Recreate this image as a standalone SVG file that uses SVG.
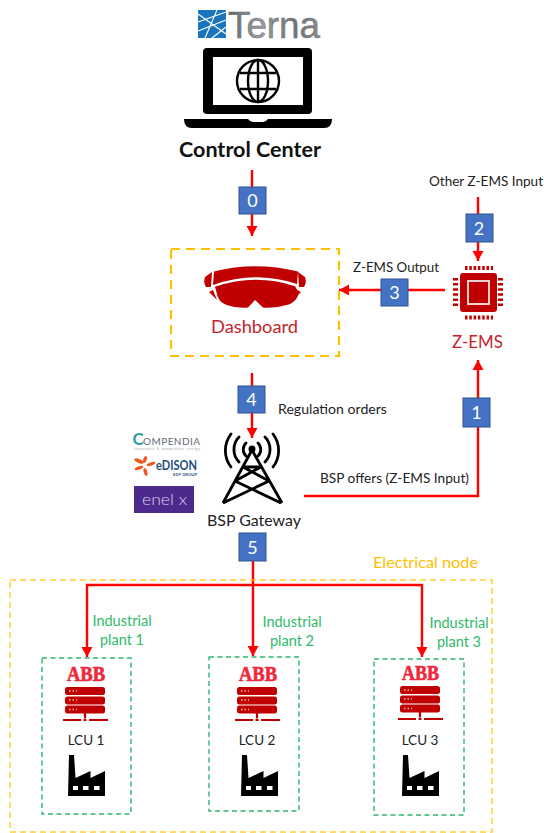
<svg xmlns="http://www.w3.org/2000/svg" width="544" height="833" viewBox="0 0 544 833">
<style>
text{font-family:"Lato","Open Sans","Liberation Sans",sans-serif}
.lbl{font-size:13.5px;fill:#222}
.num{font-size:18px;fill:#fff;text-anchor:middle}
.box{fill:#4472C4;stroke:#2F528F;stroke-width:1}
.wire{fill:none;stroke:#f00;stroke-width:2.4}
.red{fill:#C00000}
.redt{font-size:18px;fill:#C8232C}
.grn{font-size:14.5px;fill:#2DBB6B;text-anchor:middle}
.gbox{fill:none;stroke:#2FB56C;stroke-width:1.4;stroke-dasharray:5 3.5}
.abb{font-family:"Liberation Serif",serif;font-weight:bold;font-size:22px;fill:#F0283C;stroke:#F0283C;stroke-width:.7}
.wave{fill:none;stroke:#000;stroke-width:2.8;stroke-linecap:round}
</style>
<defs>
<marker id="ah" markerUnits="userSpaceOnUse" markerWidth="12" markerHeight="12" refX="10" refY="6" orient="auto"><path d="M0,0.500L10,6L0,11.500Z" fill="#f00"/></marker>
<linearGradient id="tg" x1="0" x2="1" y1="0" y2="0"><stop offset="0" stop-color="#5f6669"/><stop offset=".35" stop-color="#9a9fa2"/><stop offset=".7" stop-color="#6d7477"/><stop offset="1" stop-color="#858b8e"/></linearGradient>
<g id="server">
<rect x="65" y="687" width="40" height="8" rx="2.500" class="red"/>
<rect x="65" y="696.500" width="40" height="8" rx="2.500" class="red"/>
<rect x="65" y="705.500" width="40" height="8" rx="2.500" class="red"/>
<path d="M69,691h8M69,700h8M69,709.500h8" stroke="#f3b6b6" stroke-width="1.400" stroke-dasharray="1.500 2"/>
<path d="M85,713v5.500M63,720h18M83.500,720h3M89,720h19" stroke="#C00000" stroke-width="2.200" fill="none"/>
</g>
<g id="factory">
<path d="M69,755L74,755L75.500,778L90.500,771L90.500,778L105,771L105,796L68,796Z"/>
<path d="M73,786h5v4h-5zM83,786h5.500v4H83zM94,786h5.500v4H94z" fill="#fff"/>
</g>
</defs>

<g id="connectors">
<path class="wire" d="M252,170V236" marker-end="url(#ah)"/>
<path class="wire" d="M478,197V261" marker-end="url(#ah)"/>
<path class="wire" d="M445,290H339" marker-end="url(#ah)"/>
<path class="wire" d="M252,373V438" marker-end="url(#ah)"/>
<path class="wire" d="M304,496H478V360" marker-end="url(#ah)"/>
<path class="wire" d="M253,561V656" marker-end="url(#ah)"/>
<path class="wire" d="M253,585H87V657" marker-end="url(#ah)"/>
<path class="wire" d="M253,585H422V657" marker-end="url(#ah)"/>
</g>

<g id="terna">
<rect x="198" y="10" width="28" height="28" fill="#1B75BC"/>
<path d="M198,22L226,12M198,31L226,20M205,38L217,10M198,14L226,34M212,38L226,27" stroke="#fff" stroke-width="1.100" fill="none"/>
<text x="228" y="38" font-size="36" textLength="92" lengthAdjust="spacingAndGlyphs" style="font-family:'Liberation Sans',sans-serif" fill="url(#tg)" stroke="#6f7679" stroke-width=".5">Terna</text>
</g>

<g id="control-center">
<rect x="203" y="48" width="109" height="66" rx="4"/>
<rect x="213" y="57" width="90" height="48" fill="#fff"/>
<path d="M184,119H248Q250,122 253,122H263Q266,122 268,119H332Q332,128 324,128H192Q184,128 184,119Z"/>
<g fill="none" stroke="#000" stroke-width="2.400">
<circle cx="258" cy="81" r="21"/>
<ellipse cx="258" cy="81" rx="10" ry="21"/>
<path d="M258,60V102M240,73H276M240,89H276"/>
</g>
<text x="179" y="157" font-size="21" font-weight="bold" textLength="142" lengthAdjust="spacingAndGlyphs" fill="#111">Control Center</text>
</g>

<g id="n0"><rect class="box" x="239" y="187" width="27" height="27"/><text class="num" x="252.500" y="207">0</text></g>

<g id="dashboard">
<rect x="171" y="249" width="168" height="107" fill="none" stroke="#FFC000" stroke-width="2.200" stroke-dasharray="9 6"/>
<path class="red" d="M214,271.500Q255,261 298,271.500L297,284Q255,270 213,285Z"/>
<path class="red" d="M215,286.800Q255,273 295,286.200L299,293Q296,303 286.700,305Q275,308.500 263,307.500L255,300L248,307.500Q236,308.500 226.700,305Q218,302 216.700,293Z"/>
<path class="red" d="M212,272L205,277Q203,283 206,287L211,287ZM298,272L305,277Q307,283 304,287L299,287ZM209,292L213,290L217,300ZM301,292L297,290L293,300Z"/>
<text class="redt" x="211" y="333" textLength="87" lengthAdjust="spacingAndGlyphs">Dashboard</text>
</g>

<g id="z-ems">
<rect class="red" x="460" y="273" width="37" height="39" rx="3"/>
<rect x="468" y="281" width="21" height="23" fill="none" stroke="#f3d0d0" stroke-width="2"/>
<path d="M465,268H493M465,317.500H493" stroke="#C00000" stroke-width="4" stroke-dasharray="2.500 1.800" fill="none"/>
<path d="M455.500,278V308M500.500,278V308" stroke="#C00000" stroke-width="5" stroke-dasharray="2.500 2.600" fill="none"/>
<text class="redt" x="452" y="348" textLength="51" lengthAdjust="spacingAndGlyphs">Z-EMS</text>
</g>

<g id="other-input"><text class="lbl" x="429" y="186" textLength="114" lengthAdjust="spacingAndGlyphs">Other Z-EMS Input</text></g>
<g id="n2"><rect class="box" x="466" y="214" width="27" height="28"/><text class="num" x="479" y="234.500">2</text></g>
<g id="n3"><rect class="box" x="381" y="279" width="27" height="27"/><text class="num" x="394.500" y="299">3</text></g>
<text class="lbl" x="353" y="272" textLength="86" lengthAdjust="spacingAndGlyphs">Z-EMS Output</text>
<g id="n4"><rect class="box" x="238" y="386" width="27" height="27"/><text class="num" x="251.500" y="406">4</text></g>
<text class="lbl" x="278" y="414" textLength="109" lengthAdjust="spacingAndGlyphs">Regulation orders</text>
<g id="n1"><rect class="box" x="463" y="398" width="27" height="29"/><text class="num" x="476.500" y="419">1</text></g>
<text class="lbl" x="320" y="483" textLength="149" lengthAdjust="spacingAndGlyphs">BSP offers (Z-EMS Input)</text>

<g id="logos">
<text y="444.500" font-size="10"><tspan x="132.500" font-size="17" font-weight="bold" fill="#2E9C9A">C</tspan><tspan x="143" fill="#5F6B73" textLength="57">OMPENDIA</tspan></text>
<text x="134" y="449.500" font-size="3.500" fill="#9aa1a6" textLength="66">innovative &amp; competitive energy</text>
<g fill="#F0561D">
<ellipse cx="139" cy="461" rx="5" ry="1.800" transform="rotate(25 139 461)"/>
<ellipse cx="145" cy="459.500" rx="1.800" ry="3.500" transform="rotate(20 145 459.500)"/>
<ellipse cx="151" cy="464" rx="4.500" ry="1.700" transform="rotate(-20 151 464)"/>
<ellipse cx="139" cy="468" rx="4.500" ry="1.700" transform="rotate(-20 139 468)"/>
<ellipse cx="145.500" cy="472" rx="1.800" ry="4" transform="rotate(-15 145.500 472)"/>
</g>
<text x="156" y="470" font-size="13" font-weight="bold" fill="#1F4E79" textLength="41" lengthAdjust="spacingAndGlyphs">eDISON</text>
<text x="173" y="476" font-size="4" font-weight="bold" fill="#1F4E79" textLength="24">EDF GROUP</text>
<rect x="134" y="486" width="60" height="27" fill="#4B2A8C"/>
<text x="142" y="505" font-size="15" font-weight="300" fill="#DCCFEA" textLength="45" lengthAdjust="spacingAndGlyphs">enel x</text>
</g>

<g id="bsp-gateway">
<path d="M252,450L223,503M252,450L282,503M243,467H261M243,467L269,481M261,467L235,481M235,481L281,503M269,481L223,503" stroke="#000" stroke-width="2.800" fill="none"/>
<circle cx="252" cy="449" r="3.500"/>
<path class="wave" d="M246,443A9,9 0 0 0 246,456M258,443A9,9 0 0 1 258,456M239,437A18,18 0 0 0 239,462M265,437A18,18 0 0 1 265,462M231,434A27,27 0 0 0 231,467M273,434A27,27 0 0 1 273,467"/>
<text x="207" y="526" font-size="16" fill="#222" textLength="94" lengthAdjust="spacingAndGlyphs">BSP Gateway</text>
</g>

<g id="n5"><rect class="box" x="239" y="533" width="27" height="28"/><text class="num" x="252.500" y="553.500">5</text></g>

<g id="electrical-node">
<rect x="10" y="580" width="482" height="252" fill="none" stroke="#FFC000" stroke-opacity=".8" stroke-width="1.500" stroke-dasharray="6 4"/>
<text x="373" y="568" font-size="15.500" fill="#FFC000" textLength="105" lengthAdjust="spacingAndGlyphs">Electrical node</text>
</g>

<g id="lcu1">
<rect class="gbox" x="42" y="658" width="89" height="156"/>
<text class="grn" x="122" y="626">Industrial</text><text class="grn" x="122" y="645">plant 1</text>
<text class="abb" x="67" y="681" textLength="38" lengthAdjust="spacingAndGlyphs">ABB</text>
<use href="#server"/>
<text class="lbl" x="86" y="745" text-anchor="middle">LCU 1</text>
<use href="#factory"/>
</g>

<g id="lcu2">
<rect class="gbox" x="209" y="657" width="90" height="154"/>
<text class="grn" x="292" y="627">Industrial</text><text class="grn" x="292" y="646">plant 2</text>
<text class="abb" x="239" y="681" textLength="38" lengthAdjust="spacingAndGlyphs">ABB</text>
<use href="#server" x="172"/>
<text class="lbl" x="257" y="745" text-anchor="middle">LCU 2</text>
<use href="#factory" x="173"/>
</g>

<g id="lcu3">
<rect class="gbox" x="374" y="659" width="90" height="156"/>
<text class="grn" x="459" y="628">Industrial</text><text class="grn" x="459" y="647">plant 3</text>
<text class="abb" x="402" y="680" textLength="37" lengthAdjust="spacingAndGlyphs">ABB</text>
<use href="#server" x="335" y="-1"/>
<text class="lbl" x="420" y="745" text-anchor="middle">LCU 3</text>
<use href="#factory" x="334"/>
</g>
</svg>
